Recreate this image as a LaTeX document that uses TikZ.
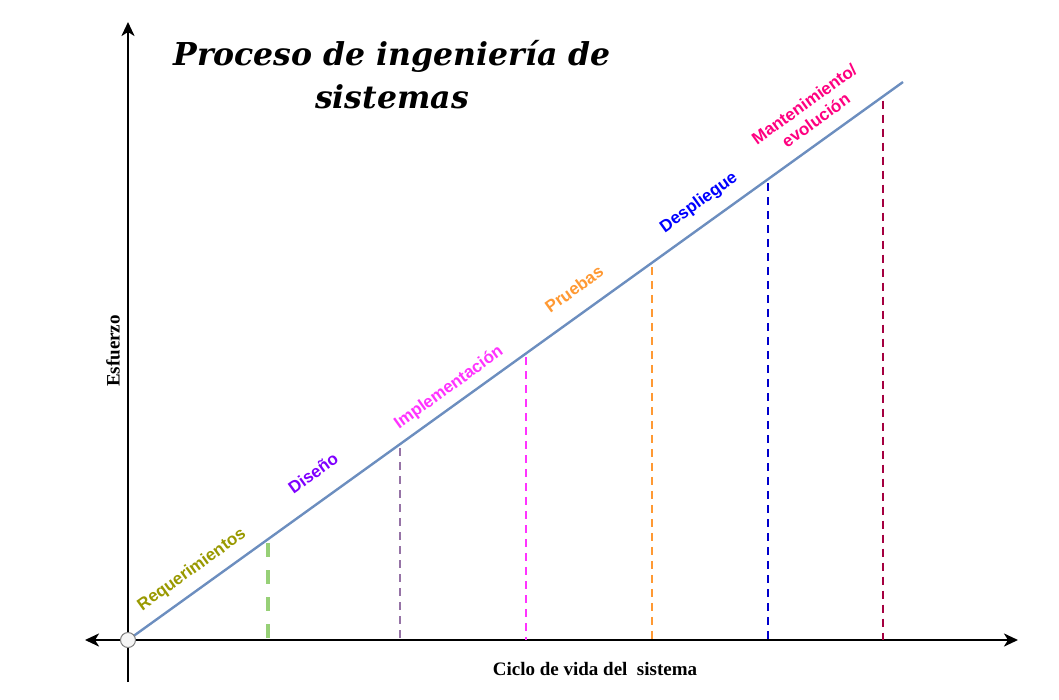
\documentclass[tikz,border=0pt]{standalone}
\usepackage{fontspec}
\setmainfont{Liberation Serif}
\newfontfamily\titlefont{DejaVu Serif}
\newfontfamily\phasefont{Liberation Sans}
\usetikzlibrary{arrows.meta,calc}
\definecolor{LineBlue}{HTML}{6C8EBF}
\definecolor{ReqOlive}{HTML}{999900}
\definecolor{DisPurple}{HTML}{7F00FF}
\definecolor{ImpMagenta}{HTML}{FF33FF}
\definecolor{PruOrange}{HTML}{FF9933}
\definecolor{DesBlue}{HTML}{0000FF}
\definecolor{ManPink}{HTML}{FF0080}
\definecolor{DashGreen}{HTML}{97D077}
\definecolor{DashGray}{HTML}{9673A6}
\definecolor{DashBlue}{HTML}{0000CC}
\definecolor{DashCrimson}{HTML}{A50040}

\begin{document}
\begin{tikzpicture}[x=1pt,y=-1pt,
    axis/.style={line width=2.4pt, {Stealth[length=14pt,width=13pt,inset=4pt]}-{Stealth[length=14pt,width=13pt,inset=4pt]}},
    phase/.style={font=\phasefont\bfseries\fontsize{17}{20}\selectfont, rotate=35.75, inner sep=0pt, align=center},
    axislabel/.style={font=\bfseries\fontsize{19}{22}\selectfont, inner sep=0pt},
    marker/.style={line width=2pt, dash pattern=on 8pt off 6pt}]
    \useasboundingbox (0,0) rectangle (1059,699);

    % axes
    \coordinate (xl) at (85,640);
    \coordinate (xr) at (1018,640);
    \coordinate (yb) at (128,682);
    \coordinate (yt) at (128,22);
    \draw[line width=2.4pt, -{Stealth[length=14pt,width=13pt,inset=4pt]}] (yb) -- (yt);
    \draw[axis] (xl) -- (xr);

    % effort line
    \coordinate (o) at (128,640);
    \coordinate (top) at (903,82);
    \draw[LineBlue, line width=2.4pt] (o) -- (top);
    \node[circle, draw=gray, fill=gray!8, line width=1pt, minimum size=15pt, inner sep=0pt] (origin) at (o) {};

    % phase boundaries
    \coordinate (r1) at ($(o)!0.1806!(top)$);
    \coordinate (r2) at ($(o)!0.351!(top)$);
    \coordinate (r3) at ($(o)!0.5135!(top)$);
    \coordinate (r4) at ($(o)!0.676!(top)$);
    \coordinate (r5) at ($(o)!0.826!(top)$);
    \coordinate (r6) at ($(o)!0.974!(top)$);
    \draw[DashGreen, line width=4pt, dash pattern=on 14pt off 13pt] ($(r1)+(0,4)$) -- (r1 |- o);
    \draw[marker, DashGray] ($(r2)+(0,4)$) -- (r2 |- o);
    \draw[marker, ImpMagenta] ($(r3)+(0,4)$) -- (r3 |- o);
    \draw[marker, PruOrange] ($(r4)+(0,4)$) -- (r4 |- o);
    \draw[marker, DashBlue] ($(r5)+(0,4)$) -- (r5 |- o);
    \draw[marker, DashCrimson] ($(r6)+(0,4)$) -- (r6 |- o);

    % phase labels
    \node[phase, ReqOlive] (req) at (192,570) {Requerimientos};
    \node[phase, DisPurple] (dis) at (313,473) {Diseño};
    \node[phase, ImpMagenta] (imp) at (449,388) {Implementación};
    \node[phase, PruOrange] (pru) at (574,289) {Pruebas};
    \node[phase, DesBlue] (des) at (699,203) {Despliegue};
    \node[phase, ManPink] (man) at (810,112) {Mantenimiento/\\evolución};

    % titles
    \node[align=center, inner sep=0pt, font=\titlefont\bfseries\itshape\fontsize{31.5}{43}\selectfont] (title) at (392,75) {Proceso de ingeniería de\\sistemas};
    \node[axislabel] (xlab) at (595,669) {Ciclo de vida del~~sistema};
    \node[axislabel, rotate=90] (ylab) at (113,351) {Esfuerzo};
\end{tikzpicture}
\end{document}
